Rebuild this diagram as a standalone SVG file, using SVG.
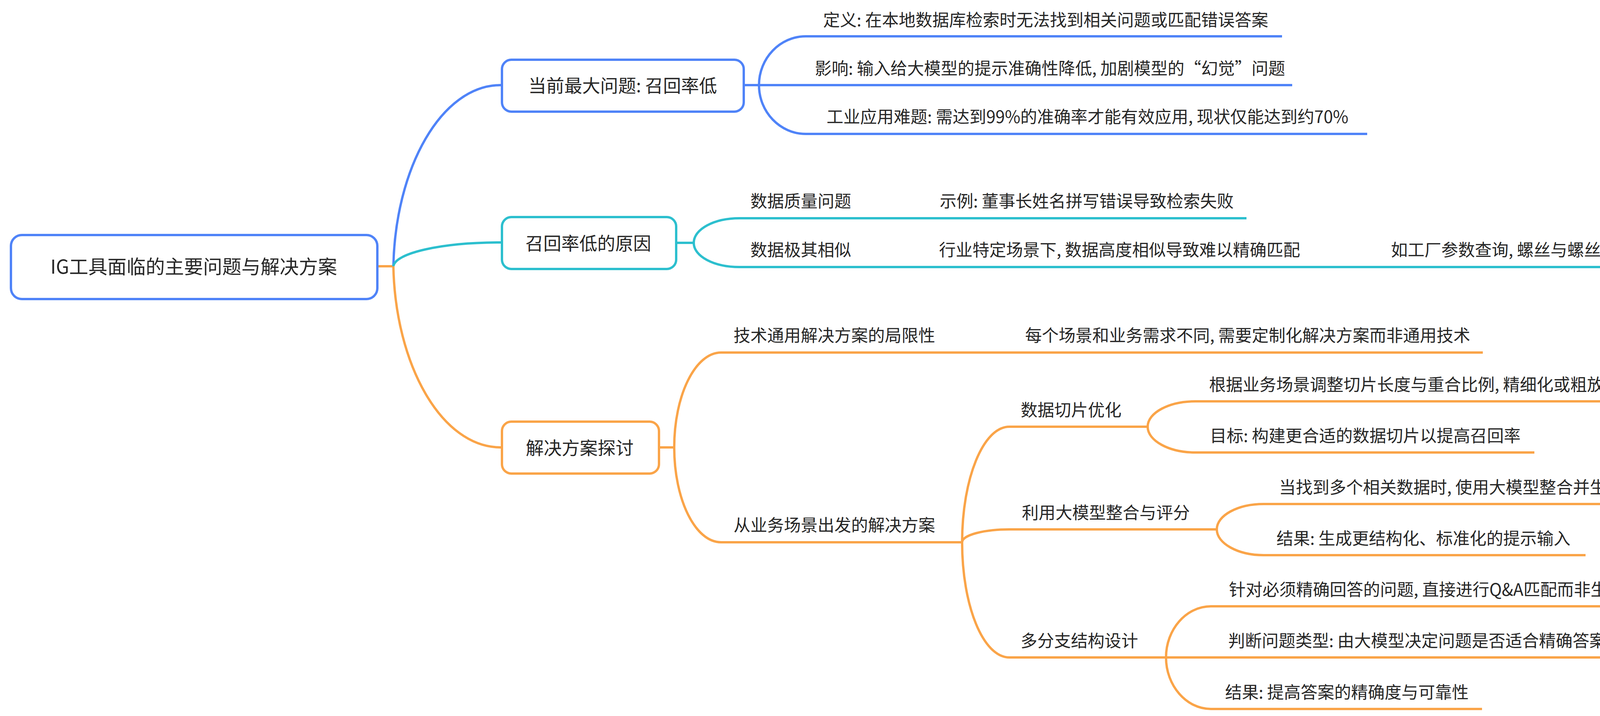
<svg xmlns="http://www.w3.org/2000/svg" width="5322" height="1834" viewBox="0 0 5322 1834">
<style>
text{font-family:"Noto Sans CJK SC","Noto Sans",sans-serif;fill:#262626;}
.root{font-size:49px;text-anchor:middle;}
.br{font-size:46px;text-anchor:middle;}
.lf{font-size:43px;text-anchor:middle;}
.box{fill:#fff;stroke-width:6;}
.c{fill:none;stroke-width:6;stroke-linecap:butt;}
.blue{stroke:#4F83F8;}
.teal{stroke:#2CBFCE;}
.orange{stroke:#FAA448;}
.wm{font-family:"Liberation Sans","Noto Sans CJK SC",sans-serif;font-size:96px;fill:#e9e9e9;stroke:#c4c4c4;stroke-width:1.2;}
</style>
<rect width="5322" height="1834" fill="#fff"/>
<g id="connectors">
<path class="c orange" d="M967,682 H1007"/>
<path class="c blue" d="M1007,682 C1012,430 1130,218 1282,218"/>
<path class="c teal" d="M1007,682 C1012,648 1130,621 1282,621"/>
<path class="c orange" d="M1007,682 C1012,934 1130,1146 1282,1146"/>
<path class="c blue" d="M1904,218 H3308"/>
<path class="c blue" d="M1943,218 C1943,149 1997,93 2063,93 H3282"/>
<path class="c blue" d="M1943,218 C1943,287 1997,343 2063,343 H3500"/>
<path class="c teal" d="M1731,622 H1776"/>
<path class="c teal" d="M1776,622 C1776,587 1828,559 1893,559 H3191"/>
<path class="c teal" d="M1776,622 C1776,657 1828,684 1893,684 H4608"/>
<path class="c orange" d="M1687,1146 H1726"/>
<path class="c orange" d="M1726,1146 C1726,1012 1780,903 1846,903 H3796"/>
<path class="c orange" d="M1726,1146 C1726,1280 1780,1389 1846,1389 H2463"/>
<path class="c orange" d="M2463,1389 C2463,1226 2517,1093 2584,1093 H2938"/>
<path class="c orange" d="M2463,1389 C2463,1371 2517,1356 2584,1356 H3115"/>
<path class="c orange" d="M2463,1389 C2463,1552 2517,1684 2584,1684 H2985"/>
<path class="c orange" d="M2938,1093 C2938,1057 2993,1028 3060,1028 H4273"/>
<path class="c orange" d="M2938,1093 C2938,1129 2993,1159 3060,1159 H3928"/>
<path class="c orange" d="M3115,1356 C3115,1320 3169,1291 3235,1291 H5301"/>
<path class="c orange" d="M3115,1356 C3115,1392 3169,1422 3235,1422 H4059"/>
<path class="c orange" d="M2985,1684 C2985,1612 3037,1553 3100,1553 H4962"/>
<path class="c orange" d="M2985,1684 H4407"/>
<path class="c orange" d="M2985,1684 C2985,1756 3037,1816 3100,1816 H3794"/>
</g>
<g id="root">
<rect class="box blue" x="28" y="602" width="938" height="164" rx="28"/>
<text class="root" x="496" y="701">IG工具面临的主要问题与解决方案</text>
</g>
<g id="b1">
<rect class="box blue" x="1285" y="153" width="619" height="133" rx="24"/>
<text class="br" x="1594" y="236">当前最大问题: 召回率低</text>
</g>
<g id="b1-1"><text class="lf" x="2677" y="67">定义: 在本地数据库检索时无法找到相关问题或匹配错误答案</text></g>
<g id="b1-2"><text class="lf" x="2688" y="191">影响: 输入给大模型的提示准确性降低, 加剧模型的“幻觉”问题</text></g>
<g id="b1-3"><text class="lf" x="2784" y="315">工业应用难题: 需达到99%的准确率才能有效应用, 现状仅能达到约70%</text></g>
<g id="b2">
<rect class="box teal" x="1285" y="556" width="446" height="133" rx="24"/>
<text class="br" x="1506" y="640">召回率低的原因</text>
</g>
<g id="b2-1"><text class="lf" x="2050" y="531">数据质量问题</text></g>
<g id="b2-1-1"><text class="lf" x="2782" y="531">示例: 董事长姓名拼写错误导致检索失败</text></g>
<g id="b2-2"><text class="lf" x="2050" y="656">数据极其相似</text></g>
<g id="b2-2-1"><text class="lf" x="2866" y="656">行业特定场景下, 数据高度相似导致难以精确匹配</text></g>
<g id="b2-2-1-1"><text class="lf" x="4066" y="656">如工厂参数查询, 螺丝与螺丝帽参数相似但本质上不同</text></g>
<g id="b3">
<rect class="box orange" x="1285" y="1080" width="402" height="133" rx="24"/>
<text class="br" x="1484" y="1164">解决方案探讨</text>
</g>
<g id="b3-1"><text class="lf" x="2136" y="875">技术通用解决方案的局限性</text></g>
<g id="b3-1-1"><text class="lf" x="3194" y="875">每个场景和业务需求不同, 需要定制化解决方案而非通用技术</text></g>
<g id="b3-2"><text class="lf" x="2136" y="1361">从业务场景出发的解决方案</text></g>
<g id="b3-2-1"><text class="lf" x="2742" y="1066">数据切片优化</text></g>
<g id="b3-2-1-1"><text class="lf" x="3665" y="1001">根据业务场景调整切片长度与重合比例, 精细化或粗放化处理</text></g>
<g id="b3-2-1-2"><text class="lf" x="3495" y="1132">目标: 构建更合适的数据切片以提高召回率</text></g>
<g id="b3-2-2"><text class="lf" x="2831" y="1329">利用大模型整合与评分</text></g>
<g id="b3-2-2-1"><text class="lf" x="3758" y="1264">当找到多个相关数据时, 使用大模型整合并生成得分</text></g>
<g id="b3-2-2-1-1"><text class="lf" x="4869" y="1264">排名依据: 大模型根据知识储备判断相关性</text></g>
<g id="b3-2-2-2"><text class="lf" x="3644" y="1395">结果: 生成更结构化、标准化的提示输入</text></g>
<g id="b3-2-3"><text class="lf" x="2763" y="1657">多分支结构设计</text></g>
<g id="b3-2-3-1"><text class="lf" x="3695" y="1526">针对必须精确回答的问题, 直接进行Q&amp;A匹配而非生成答案</text></g>
<g id="b3-2-3-1-1"><text class="lf" x="4706" y="1526">示例: 医疗用药剂量查询</text></g>
<g id="b3-2-3-2"><text class="lf" x="3757" y="1657">判断问题类型: 由大模型决定问题是否适合精确答案或数据库检索</text></g>
<g id="b3-2-3-3"><text class="lf" x="3448" y="1789">结果: 提高答案的精确度与可靠性</text></g>
<text class="wm" x="4349" y="1786" textLength="965" lengthAdjust="spacingAndGlyphs">CSDN @公版JAVA开发</text>
</svg>
